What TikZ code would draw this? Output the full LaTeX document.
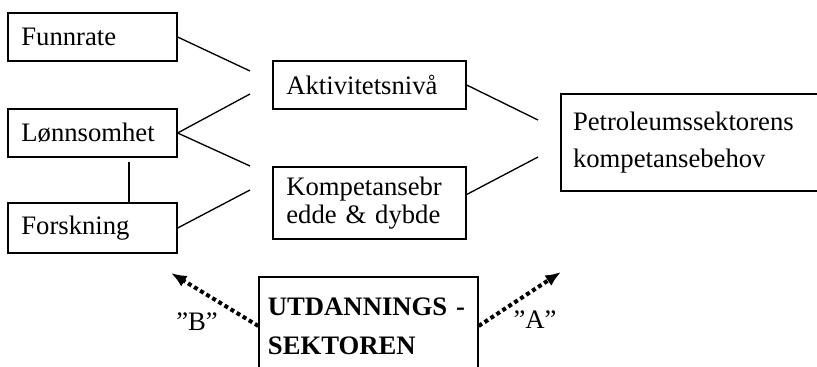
\documentclass[tikz,border=0pt]{standalone}
\usepackage{fontspec}
\setmainfont{Liberation Serif}
\definecolor{boxline}{RGB}{0, 0, 0}
\usetikzlibrary{arrows.meta}
\tikzset{
	boks/.style={rectangle, draw=boxline, line width=0.6pt, align=left, inner xsep=6pt, inner ysep=0pt, font=\fontsize{12pt}{12.6pt}\selectfont},
	smallboks/.style={boks, minimum width=76pt, minimum height=21.6pt, text width=64pt},
	midboks/.style={boks, minimum width=86.85pt, text width=74.85pt},
	link/.style={line width=0.6pt, draw=boxline},
	dotarrow/.style={-{Latex[length=7pt, width=5.6pt]}, line width=1.8pt, dash pattern=on 1.8pt off 1.4pt, draw=boxline},
	quote/.style={font=\fontsize{12pt}{14pt}\selectfont, inner sep=0pt},
}

\begin{document}
\begin{tikzpicture}[x=0.45pt, y=-0.45pt]
		\useasboundingbox (0,0) rectangle (817,367);
		\clip (0,0) rectangle (817,367);
		\node[smallboks] (funn) at (92.5,37) {Funnrate};
		\node[smallboks] (lonn) at (92.5,133) {Lønnsomhet};
		\node[smallboks, minimum height=22.5pt] (fors) at (92.5,228) {Forskning};
		\node[midboks, minimum height=21.6pt] (akt) at (369.5,85) {Aktivitetsnivå};
		\node[midboks, minimum height=32.4pt] (komp) at (369.5,203) {Kompetansebr\\edde \& dybde};
		\node[boks, inner xsep=5.4pt, minimum width=126pt, text width=115.2pt, minimum height=43.65pt, font=\fontsize{12pt}{16.65pt}\selectfont] (petro) at (701,142.5) {Petroleumssektorens\\kompetansebehov};
		\node[boks, inner xsep=4pt, minimum width=98.55pt, text width=90.5pt, minimum height=44.1pt, font=\fontsize{12pt}{17.5pt}\selectfont\bfseries] (utd) at (368.5,326) {UTDANNINGS -\\SEKTOREN};
		\coordinate (a1) at (250,71);
		\coordinate (a2) at (250,94);
		\coordinate (k1) at (250,166);
		\coordinate (k2) at (250,190);
		\coordinate (p1) at (538,120);
		\coordinate (p2) at (538,157);
		\coordinate (vtop) at (129,162);
		\coordinate (tipB) at (171,273);
		\coordinate (tipA) at (561,272);
		\draw[link] (funn.east) -- (a1);
		\draw[link] (lonn.east) -- (a2);
		\draw[link] (lonn.east) -- (k1);
		\draw[link] (fors.east) -- (k2);
		\draw[link] (vtop) -- (vtop |- fors.north);
		\draw[link] (akt.east) -- (p1);
		\draw[link] (komp.5) -- (p2);
		\draw[dotarrow] (utd.west) -- (tipB);
		\draw[dotarrow] (utd.east) -- (tipA);
		\node[quote] (lblB) at (197,322) {”B”};
		\node[quote] (lblA) at (535,320) {”A”};
	\end{tikzpicture}
\end{document}
